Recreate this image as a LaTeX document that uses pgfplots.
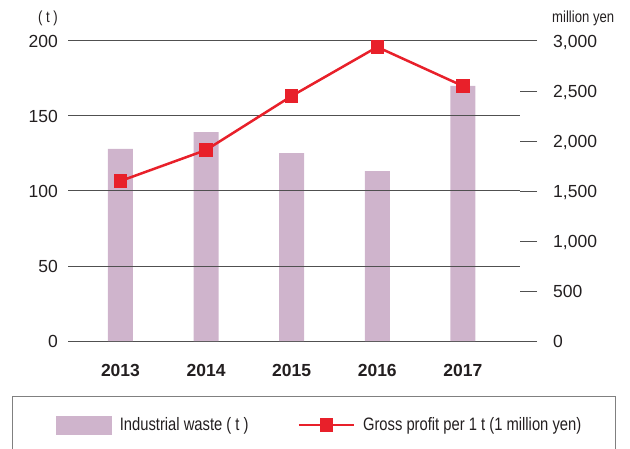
\documentclass[border=0pt]{standalone}
\usepackage{fontspec}
\setmainfont{Liberation Sans}
\newfontfamily\cond[FakeStretch=0.82]{Liberation Sans}
\usepackage{pgfplots}
\pgfplotsset{compat=1.18}
\definecolor{barcol}{HTML}{CFB4CC}
\definecolor{linered}{HTML}{E8202A}
\definecolor{gridcol}{HTML}{505050}
\definecolor{txt}{HTML}{231F20}
\begin{document}
\begin{tikzpicture}[x=1pt,y=1pt]
\useasboundingbox (0,0) rectangle (630,448);
\begin{axis}[
  at={(68pt,107pt)}, anchor=south west,
  scale only axis, width=469pt, height=300pt,
  xmin=2012.387, xmax=2017.866, ymin=0, ymax=200,
  axis line style={draw=none},
  major tick length=0pt,
  xtick={2013,2014,2015,2016,2017}, xticklabels={2013,2014,2015,2016,2017},
  xtick pos=bottom, ytick pos=left,
  ytick={0,200}, extra y ticks={50,100,150}, extra y tick style={grid=none},
  ymajorgrids, grid style={gridcol, line width=1pt},
  xticklabel style={font=\fontsize{17.5}{20}\selectfont\bfseries, text=txt, anchor=base, inner sep=0pt, yshift=-35pt},
  yticklabel style={font=\fontsize{17.5}{20}\selectfont, text=txt, anchor=base east, inner sep=0pt, xshift=-10pt, yshift=-6.5pt},
  /pgf/number format/assume math mode=true,
  clip=false,
]
\addplot[ybar, bar width=25pt, fill=barcol, draw=none] coordinates {(2013,128) (2014,139.3) (2015,125.3) (2016,113.3) (2017,170)};
\draw[gridcol, line width=1pt] (axis cs:2012.387,50) -- (axis cs:2017.667,50);
\draw[gridcol, line width=1pt] (axis cs:2012.387,100) -- (axis cs:2017.667,100);
\draw[gridcol, line width=1pt] (axis cs:2012.387,150) -- (axis cs:2017.667,150);
\end{axis}
\begin{axis}[
  at={(68pt,107pt)}, anchor=south west,
  scale only axis, width=469pt, height=300pt,
  xmin=2012.387, xmax=2017.866, ymin=0, ymax=3000,
  axis x line=none, axis y line*=right, axis line style={draw=none},
  ytick={0,500,1000,1500,2000,2500,3000}, tick align=inside, major tick length=17pt,
  tick style={gridcol, line width=1pt},
  yticklabel style={font=\fontsize{17.5}{20}\selectfont, text=txt, anchor=base west, inner sep=0pt, xshift=16pt, yshift=-6.5pt},
  scaled y ticks=false,
  /pgf/number format/assume math mode=true,
  /pgf/number format/1000 sep={,},
  legend columns=2, legend cell align=left,
  legend style={at={(-0.1194,-0.1833)}, anchor=north west, draw=gray, line width=1.2pt,
    inner xsep=34pt, inner ysep=19pt, font=\cond\fontsize{18}{20}\selectfont, text=txt,
    nodes={inner sep=0pt},
    /tikz/every odd column/.style={column sep=8pt},
    /tikz/every even column/.style={column sep=49pt}},
  clip=false,
]
\addlegendimage{legend image code/.code={\fill[barcol] (0pt,-9pt) rectangle (55pt,9pt); \path (-9pt,0pt);}}
\addlegendentry{Industrial waste ( t )}
\addplot[linered, line width=2.5pt, mark=square*, mark size=5.5pt, mark options={fill=linered, draw=none},
  legend image code/.code={\draw[linered, line width=2.5pt] (0pt,0pt) -- (55pt,0pt); \fill[linered] (22pt,-5.5pt) rectangle (33pt,5.5pt);}]
  coordinates {(2013,1600) (2014,1910) (2015,2450) (2016,2940) (2017,2550)};
\addlegendentry{Gross profit per 1 t (1 million yen)}
\end{axis}
\node[anchor=base east, inner sep=0pt, font=\cond\fontsize{16}{18}\selectfont, text=txt] at (58,425) {( t )};
\node[anchor=base west, inner sep=0pt, font=\cond\fontsize{16}{18}\selectfont, text=txt] at (552,425) {million yen};
\end{tikzpicture}
\end{document}
